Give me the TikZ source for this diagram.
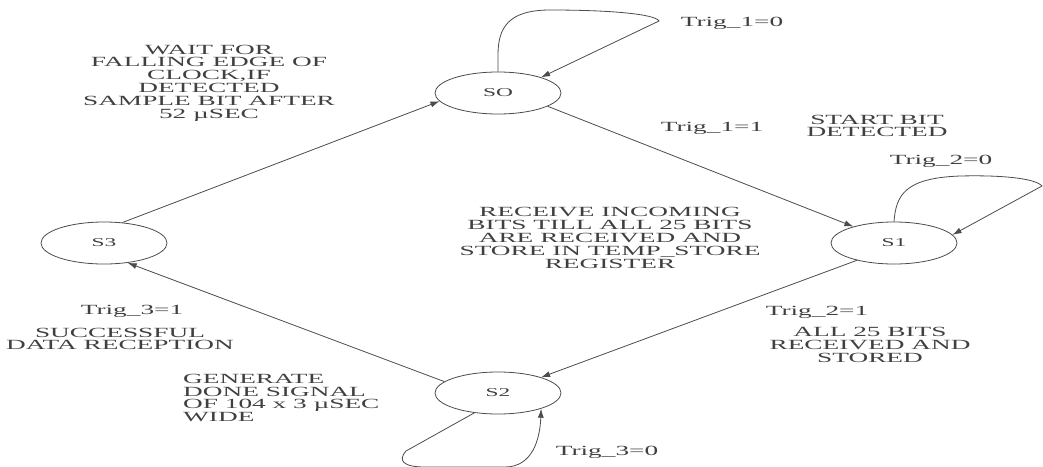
\documentclass[tikz,border=0pt]{standalone}
\usepackage{fontspec}
\setmainfont{Liberation Serif}[FakeStretch=1.95]
\usetikzlibrary{arrows.meta,shapes.geometric}
\begin{document}
\begin{tikzpicture}[x=1pt,y=-1pt,
  state/.style={draw=black!70, line width=0.8pt, ellipse, minimum width=126pt, minimum height=42pt, inner sep=0pt, font=\fontsize{12}{12}\selectfont, text=black!75},
  lbl/.style={font=\fontsize{14}{12.8}\selectfont, text=black!75, inner sep=0pt, align=center},
  edge/.style={draw=black!70, line width=0.8pt, -{Latex[length=9pt,width=6pt]}}]
\useasboundingbox[fill=white] (0,0) rectangle (1043,466);

\node[state] (S0) at (498,93) {SO};
\node[state] (S1) at (894,243) {S1};
\node[state] (S2) at (498,393) {S2};
\node[state] (S3) at (104,243) {S3};

\draw[edge] (S3.48) -- (S0.188);
\draw[edge] (S0.-15) -- (S1.158);
\draw[edge] (S1.205) -- (S2.20);
\draw[edge] (S2.168) -- (S3.-40);

\draw[edge] (S0.north) -- (498,55) .. controls (498,28) and (508,10) .. (550,10) .. controls (610,10) and (655,14) .. (659,21) -- (S0.20);
\draw[edge] (S1.north) .. controls (896,195) and (905,178) .. (960,176) .. controls (1000,175) and (1035,178) .. (1042,186) -- (S1.8);
\draw[edge] (S2.-140) -- (406,451) .. controls (398,460) and (402,467) .. (425,467) -- (505,467) .. controls (532,467) and (540,440) .. (S2.-20);

\node[lbl] (t10) at (732,23) {Trig\_1=0};
\node[lbl] (t11) at (712,128) {Trig\_1=1};
\node[lbl] (sb) at (877,126) {START BIT\\DETECTED};
\node[lbl] (t20) at (941,161) {Trig\_2=0};
\node[lbl] (rcv) at (610,238) {RECEIVE INCOMING\\BITS TILL ALL 25 BITS\\ARE RECEIVED AND\\STORE IN TEMP\_STORE\\REGISTER};
\node[lbl] (t21) at (817,312) {Trig\_2=1};
\node[lbl] (all) at (870,345) {ALL 25 BITS\\RECEIVED AND\\STORED};
\node[lbl] (t31) at (132,311) {Trig\_3=1};
\node[lbl] (suc) at (120,339) {SUCCESSFUL\\DATA RECEPTION};
\node[lbl, align=left, anchor=west] (gen) at (183,398) {GENERATE\\DONE SIGNAL\\OF 104 x 3 µSEC\\WIDE};
\node[lbl] (t30) at (607,452) {Trig\_3=0};
\node[lbl] (wait) at (209,83) {WAIT FOR\\FALLING EDGE OF\\CLOCK,IF\\DETECTED\\SAMPLE BIT AFTER\\52 µSEC};
\end{tikzpicture}
\end{document}
